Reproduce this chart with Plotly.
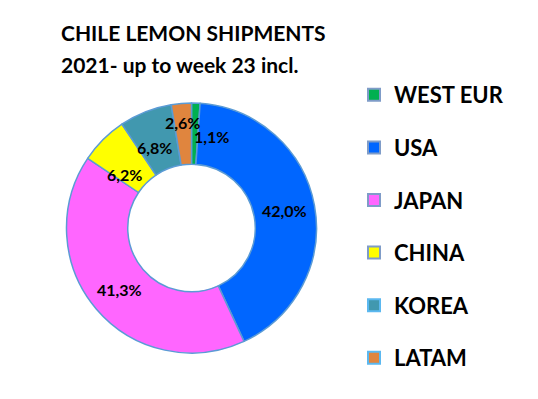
import math
import plotly.graph_objects as go

categories = ["WEST EUR", "USA", "JAPAN", "CHINA", "KOREA", "LATAM"]
shares = [1.1, 42.0, 41.3, 6.2, 6.8, 2.6]
colors = ["#00B050", "#0066FF", "#FF66FF", "#FFFF00", "#4198AF", "#E0853E"]
legend_borders = ["#7F9CC8", "#7F9CC8", "#7F9CC8", "#7F9CC8", "#5BB8F0", "#5BB8F0"]
title_lines = ["CHILE LEMON SHIPMENTS", "2021- up to week 23 incl."]

W, H = 538, 399
FONT = "Lato"

# pie geometry (pixels)
CX, CY, R_OUT, HOLE = 191.5, 228, 125, 0.51
# small label nudges (pixels) to mimic the reference placement
nudges = [(17, 3), (0, 0), (0, 0), (0, 13), (-2, 7), (-1, -11)]

fig = go.Figure()
fig.add_trace(go.Pie(
    labels=categories, values=shares, sort=False, direction="clockwise", rotation=0,
    hole=HOLE,
    marker=dict(colors=colors, line=dict(color="#5B9BD5", width=1.5)),
    textinfo="none",
    showlegend=False, hoverinfo="label+value",
    domain=dict(x=[(CX - R_OUT) / W, (CX + R_OUT) / W],
                y=[1 - (CY + R_OUT) / H, 1 - (CY - R_OUT) / H]),
))

total = sum(shares)
r_mid = R_OUT * (1 + HOLE) / 2
cum = 0.0
annotations = []
for v, (nx, ny) in zip(shares, nudges):
    mid = (cum + v / 2) / total * 2 * math.pi
    cum += v
    px = CX + r_mid * math.sin(mid) + nx
    py = CY - r_mid * math.cos(mid) + ny
    annotations.append(dict(
        text=f"{v:.1f}%".replace(".", ","), xref="paper", yref="paper",
        x=px / W, y=1 - py / H, xanchor="center", yanchor="middle", showarrow=False,
        font=dict(family=FONT, size=16, color="black", weight="bold"),
    ))

for c, col, bc in zip(categories, colors, legend_borders):
    fig.add_trace(go.Scatter(
        x=[None], y=[None], mode="markers", name=c, legendgroup=c,
        marker=dict(symbol="square", size=13, color=col, line=dict(color=bc, width=1.5)),
    ))

for i, line in enumerate(title_lines):
    annotations.append(dict(
        text=line, xref="paper", yref="paper",
        x=59 / W, y=1 - (33 + 32 * i) / H, xanchor="left", yanchor="middle",
        showarrow=False, font=dict(family=FONT, size=21, color="black", weight="bold"),
    ))

fig.update_layout(
    width=W, height=H, margin=dict(l=0, r=0, t=0, b=0),
    paper_bgcolor="white", plot_bgcolor="white", separators=",.",
    xaxis=dict(visible=False), yaxis=dict(visible=False),
    legend=dict(x=354 / W, y=1 - 74 / H, xanchor="left", yanchor="top",
                font=dict(family=FONT, size=22, color="black", weight="bold"),
                tracegroupgap=21, itemsizing="constant", bgcolor="rgba(0,0,0,0)"),
    annotations=annotations,
)

fig.write_html("out.html")
